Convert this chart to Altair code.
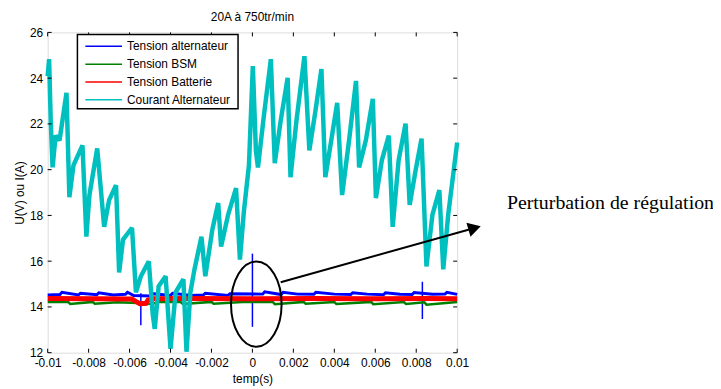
import altair as alt
import pandas as pd

W, H = 413, 323

# ---- data ----
x_ticks = [-0.01, -0.008, -0.006, -0.004, -0.002, 0, 0.002, 0.004, 0.006, 0.008, 0.01]
y_ticks = [12, 14, 16, 18, 20, 22, 24, 26]
title_text = ["20A à 750tr/min"]

names = ["Tension alternateur", "Tension BSM", "Tension Batterie", "Courant Alternateur"]
colors = ["#0000FF", "#008000", "#FF0000", "#00BFBF"]

# Courant alternateur (sawtooth centre line)
cur_t = [-0.01, -0.00993, -0.00985, -0.00976, -0.00961, -0.00942, -0.00908, -0.00894, -0.00874, -0.0083,
         -0.00811, -0.00796, -0.00758, -0.00724, -0.007, -0.00666, -0.00651, -0.00632, -0.00588, -0.00569,
         -0.00545, -0.00506, -0.00487, -0.00477, -0.00458, -0.00424, -0.004, -0.00375, -0.00337, -0.00322,
         -0.00303, -0.00283, -0.00249, -0.0023, -0.00196, -0.00167, -0.00153, -0.00119, -0.0008, -0.00061,
         -0.00041, -0.00017, 0.00002, 0.00017, 0.00027, 0.00056, 0.0009, 0.00109, 0.00138, 0.00172,
         0.00186, 0.00215, 0.00254, 0.00278, 0.00308, 0.00337, 0.00356, 0.00385, 0.00414, 0.00438,
         0.00472, 0.00506, 0.00521, 0.00554, 0.00588, 0.00603, 0.00632, 0.00666, 0.00685, 0.00714,
         0.00748, 0.00768, 0.00797, 0.00826, 0.0085, 0.00879, 0.00913, 0.00932, 0.00956, 0.01]
cur_v = [24.09, 24.83, 22.14, 20.10, 21.49, 21.28, 23.36, 18.80, 20.19, 21.06,
         17.07, 18.89, 20.93, 17.50, 18.67, 19.32, 15.51, 16.94, 17.46, 14.64,
         15.34, 15.99, 13.69, 13.04, 14.90, 15.34, 12.17, 14.64, 15.21, 12.04,
         14.64, 15.64, 17.07, 15.34, 17.37, 18.54, 16.64, 18.02, 19.19, 16.07,
         18.24, 20.19, 24.53, 20.84, 20.10, 22.36, 24.83, 20.28, 22.14, 24.01,
         19.67, 22.14, 24.96, 20.84, 22.58, 24.40, 19.67, 21.28, 22.92, 18.89,
         21.28, 23.88, 20.10, 21.28, 23.10, 18.76, 20.41, 21.49, 17.50, 20.41,
         22.01, 18.46, 19.97, 21.36, 15.77, 18.02, 19.11, 15.64, 18.02, 21.19]

# Tension alternateur
blue_t = [-0.01, -0.0094, -0.0093, -0.0085, -0.0084, -0.0076, -0.0075, -0.0068, -0.0062, -0.0061,
          -0.0058, -0.005, -0.0049, -0.004, -0.0039, -0.003, -0.0024, -0.0023, -0.0012, -0.0011,
          0.0005, 0.0006, 0.0014, 0.0015, 0.0022, 0.003, 0.0031, 0.004, 0.0048, 0.0049,
          0.0056, 0.0064, 0.0065, 0.0072, 0.0078, 0.0079, 0.0088, 0.0094, 0.0095, 0.01]
blue_v = [14.52, 14.54, 14.64, 14.52, 14.6, 14.53, 14.62, 14.52, 14.55, 14.64,
          14.5, 14.48, 14.58, 14.5, 14.6, 14.5, 14.52, 14.6, 14.5, 14.58,
          14.56, 14.66, 14.54, 14.64, 14.56, 14.55, 14.64, 14.56, 14.54, 14.62,
          14.56, 14.53, 14.62, 14.55, 14.54, 14.63, 14.55, 14.56, 14.64, 14.55]
# blue spikes
spike_t = [-0.00545, 0.0, 0.0083]
spike_lo = [13.2, 13.13, 13.47]
spike_hi = [14.6, 16.33, 15.1]

# Tension Batterie
red_t = [-0.01, -0.0075, -0.0059, -0.0057, -0.0055, -0.0052, -0.0051, -0.0049, -0.003, 0.0,
         0.003, 0.006, 0.0085, 0.01]
red_v = [14.37, 14.36, 14.35, 14.24, 14.14, 14.16, 14.3, 14.36, 14.37, 14.36,
         14.37, 14.36, 14.37, 14.36]

# Tension BSM
green_t = [-0.01, -0.009, -0.0089, -0.0078, -0.0077, -0.0066, -0.0056, -0.0055, -0.0047, -0.0046,
           -0.0035, -0.0034, -0.002, -0.0019, -0.0005, 0.001, 0.0011, 0.0025, 0.0026, 0.004,
           0.0041, 0.0058, 0.0059, 0.0074, 0.0075, 0.0084, 0.0085, 0.01]
green_v = [14.22, 14.22, 14.13, 14.22, 14.14, 14.2, 14.17, 14.1, 14.17, 14.22,
           14.21, 14.13, 14.22, 14.14, 14.22, 14.21, 14.12, 14.22, 14.14, 14.21,
           14.13, 14.22, 14.12, 14.21, 14.13, 14.2, 14.1, 14.22]

# annotation
ell_t, ell_v = [0.00019], [14.12]
arr_t, arr_v, arr_t2, arr_v2 = [0.00138], [15.08], [0.01085], [17.45]
note_t, note_v = [0.01243], [18.54]
note_text = ["Perturbation de régulation"]

SANS = "Liberation Sans"

# ---- encodings ----
X = alt.X("t:Q", scale=alt.Scale(domain=[-0.01, 0.01], nice=False, zero=False),
          axis=alt.Axis(values=x_ticks, labelExpr="'' + datum.value", title="temp(s)",
                        grid=False, ticks=False, tickSize=0, domain=False, labelPadding=5,
                        titlePadding=5, labelFlush=False, labelOverlap=False,
                        labelFont=SANS, labelFontSize=12, labelColor="black",
                        titleFont=SANS, titleFontSize=12, titleFontWeight="normal", titleColor="black"))
Y = alt.Y("v:Q", scale=alt.Scale(domain=[12, 26], nice=False, zero=False),
          axis=alt.Axis(values=y_ticks, title="U(V) ou I(A)", grid=False, ticks=False, tickSize=0,
                        domain=False, labelPadding=5, titlePadding=3, labelOverlap=False,
                        labelFont=SANS, labelFontSize=12, labelColor="black",
                        titleFont=SANS, titleFontSize=12, titleFontWeight="normal", titleColor="black"))

blue = alt.Chart(pd.DataFrame({"t": blue_t, "v": blue_v})).mark_line(
    color=colors[0], strokeWidth=3, interpolate="linear").encode(x=X, y=Y)
spikes = alt.Chart(pd.DataFrame({"t": spike_t, "v": spike_lo, "v2": spike_hi})).mark_rule(
    color=colors[0], strokeWidth=1.5).encode(x=X, y=Y, y2="v2:Q")
green = alt.Chart(pd.DataFrame({"t": green_t, "v": green_v})).mark_line(
    color=colors[1], strokeWidth=2.5).encode(x=X, y=Y)
red = alt.Chart(pd.DataFrame({"t": red_t, "v": red_v})).mark_line(
    color=colors[2], strokeWidth=5).encode(x=X, y=Y)
cyan = alt.Chart(pd.DataFrame({"t": cur_t, "v": cur_v})).mark_line(
    color=colors[3], strokeWidth=4.5, strokeJoin="miter", strokeMiterLimit=2).encode(x=X, y=Y)

xt = pd.DataFrame({"t": x_ticks})
yt = pd.DataFrame({"v": y_ticks})
tick_top = alt.Chart(xt).mark_rule(color="black", strokeWidth=1).encode(x=X, y=alt.value(0), y2=alt.value(4))
tick_bot = alt.Chart(xt).mark_rule(color="black", strokeWidth=1).encode(x=X, y=alt.value(H), y2=alt.value(H - 4))
tick_left = alt.Chart(yt).mark_rule(color="black", strokeWidth=1).encode(y=Y, x=alt.value(0), x2=alt.value(4))
tick_right = alt.Chart(yt).mark_rule(color="black", strokeWidth=1).encode(y=Y, x=alt.value(W), x2=alt.value(W - 4))

ELLIPSE = ("M0,-1 C0.3275,-1 0.593,-0.5523 0.593,0 C0.593,0.5523 0.3275,1 0,1 "
           "C-0.3275,1 -0.593,0.5523 -0.593,0 C-0.593,-0.5523 -0.3275,-1 0,-1 Z")
ellipse = alt.Chart(pd.DataFrame({"t": ell_t, "v": ell_v})).mark_point(
    shape=ELLIPSE, size=7396, filled=False, stroke="black", strokeWidth=2, opacity=1).encode(x=X, y=Y)
arrow = alt.Chart(pd.DataFrame({"t": arr_t, "v": arr_v, "t2": arr_t2, "v2": arr_v2})).mark_rule(
    color="black", strokeWidth=2).encode(x=X, y=Y, x2="t2:Q", y2="v2:Q")
head = alt.Chart(pd.DataFrame({"t": arr_t2, "v": arr_v2})).mark_point(
    shape="triangle-right", size=220, filled=True, color="black", opacity=1, angle=344).encode(x=X, y=Y)
note = alt.Chart(pd.DataFrame({"t": note_t, "v": note_v, "s": note_text})).mark_text(
    align="left", baseline="middle", font="Liberation Serif", fontSize=20, color="black").encode(
    x=X, y=Y, text="s:N")
title = alt.Chart(pd.DataFrame({"s": title_text})).mark_text(
    align="center", baseline="middle", font=SANS, fontSize=12, color="black").encode(
    x=alt.value(W / 2), y=alt.value(-16), text="s:N")

main = alt.layer(blue, spikes, green, red, cyan, tick_top, tick_bot, tick_left, tick_right,
                 ellipse, arrow, head, note, title)

# ---- legend (built from the names list) ----
LY = alt.Y("name:N", scale=alt.Scale(type="point", domain=names, range=[14, 68], padding=0), axis=None)
leg_df = pd.DataFrame({"name": names})
leg_box = alt.Chart(alt.Data(values=[{}])).mark_rect(
    fill="white", stroke="black", strokeWidth=1.5).encode(
    x=alt.value(30), x2=alt.value(192), y=alt.value(2), y2=alt.value(77))
leg_line = alt.Chart(leg_df).mark_rule(strokeWidth=1.5).encode(
    x=alt.value(38), x2=alt.value(75), y=LY,
    color=alt.Color("name:N", scale=alt.Scale(domain=names, range=colors), legend=None))
leg_text = alt.Chart(leg_df).mark_text(align="left", baseline="middle", font=SANS, fontSize=12,
                                       color="black").encode(x=alt.value(80), y=LY, text="name:N")
legend = alt.layer(leg_box, leg_line, leg_text)

chart = alt.layer(main, legend).resolve_scale(y="independent").properties(
    width=W, height=H,
    autosize=alt.AutoSizeParams(type="none"),
    padding={"left": 40, "top": 23, "right": 258, "bottom": 34},
).configure_view(stroke="black", strokeWidth=1).configure(background="white")

chart.save("out.html", embed_options={"renderer": "svg", "actions": False})
